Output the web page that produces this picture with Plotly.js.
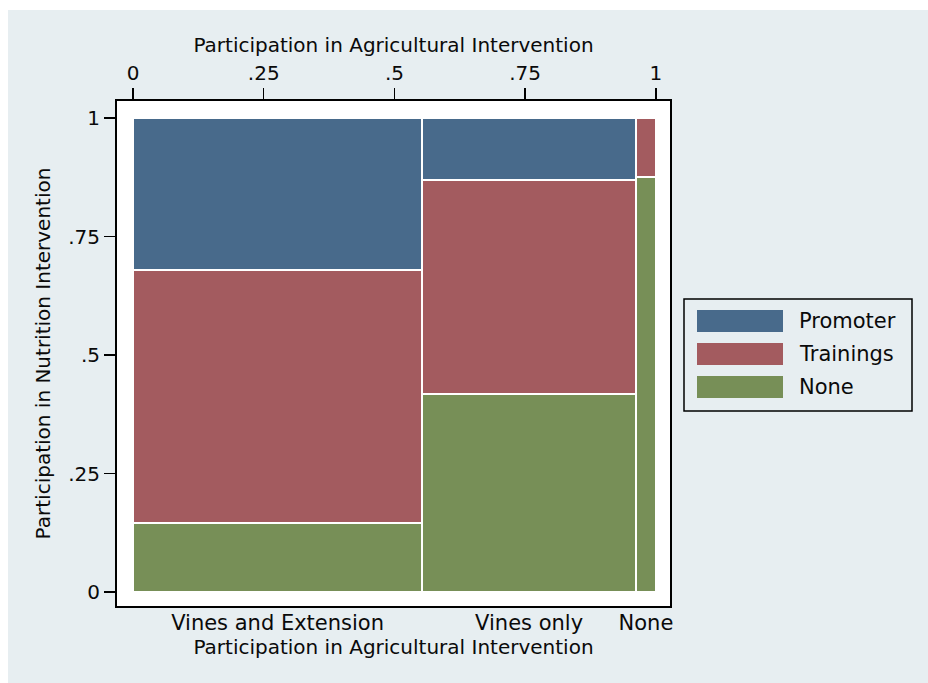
<!DOCTYPE html>
<html>
<head>
<meta charset="utf-8">
<script src="https://cdn.plot.ly/plotly-3.0.1.min.js"></script>
<style>
  html, body { margin: 0; padding: 0; background: #ffffff; }
  #chart { position: absolute; left: 8px; top: 10px; width: 920px; height: 673px; }
</style>
</head>
<body>
<div id="chart"></div>
<script>
// ---- Data ----
var agriCategories = ["Vines and Extension", "Vines only", "None"];
var agriShares = [0.553, 0.409, 0.038];           // column widths (share of sample)
var nutritionLevels = ["Promoter", "Trainings", "None"];
var sharePromoter  = [0.320, 0.131, 0.000];
var shareTrainings = [0.535, 0.451, 0.125];
var shareNone      = [0.145, 0.418, 0.875];
var axisTickVals  = [0, 0.25, 0.5, 0.75, 1];
var axisTickText  = ["0", ".25", ".5", ".75", "1"];
var levelColors = ["#486a8b", "#a35b5f", "#778f57"];

// ---- Derived column centres ----
var centers = [], cum = 0;
for (var i = 0; i < agriShares.length; i++) {
  centers.push(cum + agriShares[i] / 2);
  cum += agriShares[i];
}

var bg = "#e7eef1";
var fam = "DejaVu Sans, Liberation Sans, Arial, sans-serif";
var font = {family: fam, size: 20, color: "#0a0a0a"};

function barTrace(name, vals, color) {
  return {
    type: "bar", name: name, x: centers, y: vals, width: agriShares,
    marker: {color: color, line: {color: "#ffffff", width: 2}},
    xaxis: "x", yaxis: "y", showlegend: false, hoverinfo: "name+y"
  };
}
// stacking order bottom -> top: None, Trainings, Promoter
var traces = [
  barTrace(nutritionLevels[2], shareNone, levelColors[2]),
  barTrace(nutritionLevels[1], shareTrainings, levelColors[1]),
  barTrace(nutritionLevels[0], sharePromoter, levelColors[0]),
  {type: "scatter", mode: "markers", x: [0, 1], y: [0, 0], xaxis: "x2", yaxis: "y",
   marker: {opacity: 0}, showlegend: false, hoverinfo: "skip"}
];

var xr = [-0.0306, 1.027], yr = [-0.0295, 1.036];

// Manual Stata-style legend (positions in page pixels converted to paper coords)
var plotL = 117, plotR = 670, plotT = 101, plotB = 606;
function px(xp) { return (xp - plotL) / (plotR - plotL); }
function py(yp) { return (plotB - yp) / (plotB - plotT); }

var shapes = [{type: "rect", xref: "paper", yref: "paper",
  x0: px(684), x1: px(912), y0: py(411), y1: py(299),
  line: {color: "#000000", width: 1.5}, fillcolor: bg, layer: "below"}];
var annotations = [];
var rowY = [321, 354, 387];
for (var k = 0; k < nutritionLevels.length; k++) {
  shapes.push({type: "rect", xref: "paper", yref: "paper",
    x0: px(697), x1: px(783), y0: py(rowY[k] + 11), y1: py(rowY[k] - 11),
    line: {color: levelColors[k], width: 0}, fillcolor: levelColors[k]});
  annotations.push({xref: "paper", yref: "paper", x: px(797), y: py(rowY[k]),
    xanchor: "left", yanchor: "middle", text: nutritionLevels[k], showarrow: false,
    font: {family: fam, size: 21, color: "#0a0a0a"}});
}

var layout = {
  width: 920, height: 673,
  paper_bgcolor: bg, plot_bgcolor: "#ffffff",
  font: font,
  margin: {l: plotL - 8, r: 928 - plotR, t: plotT - 10, b: 683 - plotB, pad: 0},
  barmode: "stack", bargap: 0,
  showlegend: false,
  xaxis: {
    range: xr, side: "bottom", tickmode: "array", tickvals: centers, ticktext: agriCategories,
    ticks: "", showgrid: false, zeroline: false, showline: true, mirror: true,
    linecolor: "#000000", linewidth: 2, tickfont: {size: 21}, ticklabelstandoff: -3,
    title: {text: "Participation in Agricultural Intervention", font: {size: 20}, standoff: 0},
    automargin: false, fixedrange: true
  },
  xaxis2: {
    range: xr, overlaying: "x", side: "top", tickmode: "array",
    tickvals: axisTickVals, ticktext: axisTickText,
    ticks: "outside", ticklen: 12, tickwidth: 1.5, tickcolor: "#000000",
    showgrid: false, zeroline: false, showline: false, tickfont: {size: 20},
    title: {text: "Participation in Agricultural Intervention", font: {size: 20}, standoff: 3},
    automargin: false, fixedrange: true
  },
  yaxis: {
    range: yr, tickmode: "array", tickvals: axisTickVals, ticktext: axisTickText,
    ticks: "outside", ticklen: 11, tickwidth: 1.5, tickcolor: "#000000",
    showgrid: false, zeroline: false, showline: true, mirror: true,
    linecolor: "#000000", linewidth: 2, tickfont: {size: 20},
    title: {text: "Participation in Nutrition Intervention", font: {size: 20}, standoff: 12},
    automargin: false, fixedrange: true
  },
  shapes: shapes,
  annotations: annotations
};

Plotly.newPlot("chart", traces, layout, {displayModeBar: false, staticPlot: true});
</script>
</body>
</html>
